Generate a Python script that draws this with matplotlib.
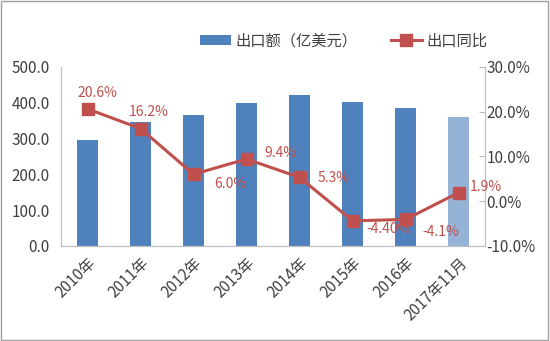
import matplotlib
matplotlib.use("Agg")
import matplotlib.pyplot as plt
from matplotlib.patches import Rectangle
from matplotlib.ticker import FuncFormatter

plt.rcParams['font.family'] = ['Noto Sans CJK SC', 'DejaVu Sans']

categories = ["2010年", "2011年", "2012年", "2013年", "2014年", "2015年", "2016年", "2017年11月"]
export_value = [296, 345, 366, 400, 420, 403, 386, 359]
yoy_growth = [20.6, 16.2, 6.0, 9.4, 5.3, -4.4, -4.1, 1.9]
yoy_labels = ["20.6%", "16.2%", "6.0%", "9.4%", "5.3%", "-4.40%", "-4.1%", "1.9%"]

bar_colors = ["#4F81BD"] * 7 + ["#95B3D7"]
line_color = "#C0504D"
text_color = "#404040"
label_offsets = [(10, 16), (8, 17), (37, -10), (34, 6), (34, -1), (36, -8), (35, -13), (27, 6)]

fig = plt.figure(figsize=(5.5, 3.41), dpi=100)
ax = fig.add_axes([0.111, 0.279, 0.771, 0.525])
ax2 = ax.twinx()

x = range(len(categories))
bars = ax.bar(x, export_value, width=0.4, color=bar_colors, label="出口额（亿美元）", zorder=2)
line, = ax2.plot(x, yoy_growth, color=line_color, lw=2.2, marker="s", markersize=8,
                 label="出口同比", zorder=3)

ax.set_xlim(-0.5, len(categories) - 0.5)
ax.set_ylim(0, 500)
ax.set_yticks([0, 100, 200, 300, 400, 500])
ax.yaxis.set_major_formatter(FuncFormatter(lambda v, p: f"{v:.1f}"))
ax2.set_ylim(-10, 30)
ax2.set_yticks([-10, 0, 10, 20, 30])
ax2.yaxis.set_major_formatter(FuncFormatter(lambda v, p: f"{v:.1f}%"))

ax.set_xticks(list(x))
ax.set_xticklabels(categories, rotation=45, ha="right", rotation_mode="anchor")

for a in (ax, ax2):
    a.spines["top"].set_visible(False)
    for s in ("left", "right", "bottom"):
        a.spines[s].set_color("#BFBFBF")
    a.tick_params(colors=text_color, labelsize=11, length=0)
ax.tick_params(axis="x", pad=6)
ax.tick_params(axis="y", pad=8)
ax2.tick_params(axis="y", length=4, direction="in", color="#BFBFBF", pad=1)

ax2.set_zorder(ax.get_zorder() + 1)
ax2.patch.set_visible(False)

for xi, yi, lab, off in zip(x, yoy_growth, yoy_labels, label_offsets):
    ax2.annotate(lab, (xi, yi), xytext=off, textcoords="offset pixels",
                 ha="center", va="center", color=line_color, fontsize=10)

fig.legend(handles=[bars, line], loc="center", bbox_to_anchor=(0.625, 0.88), ncol=2,
           frameon=False, fontsize=11, handlelength=2.0, columnspacing=2.2,
           labelcolor=text_color, handletextpad=0.3)

fig.patches.append(Rectangle((0.002, 0.003), 0.995, 0.993, transform=fig.transFigure,
                             fill=False, edgecolor="#A0A0A0", lw=1))

fig.savefig("out.png", dpi=100)
